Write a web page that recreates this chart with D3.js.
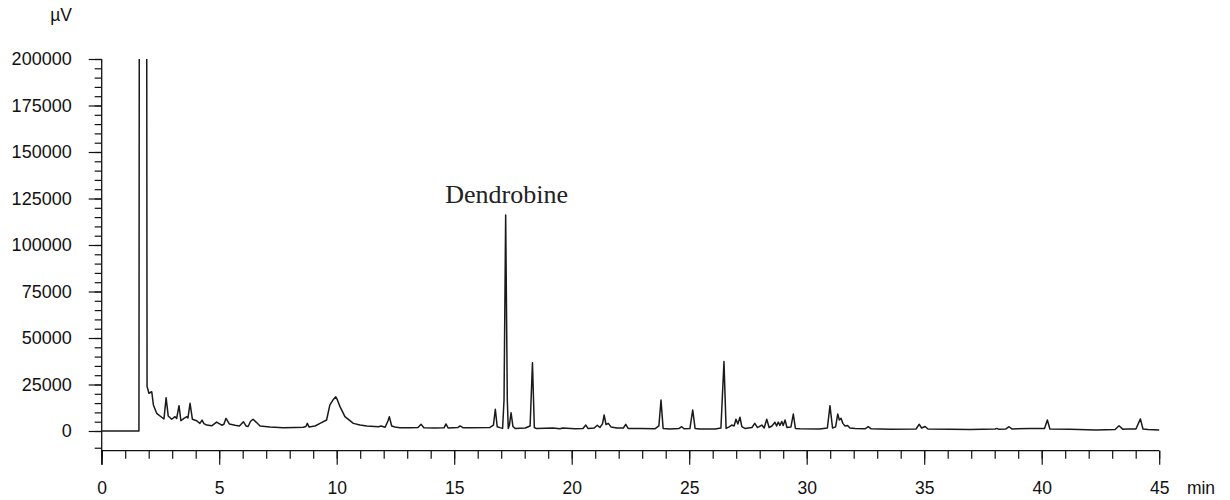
<!DOCTYPE html>
<html>
<head>
<meta charset="utf-8">
<script src="https://cdn.jsdelivr.net/npm/d3@7"></script>
<style>
  body { margin: 0; background: #fff; }
  svg { display: block; }
</style>
</head>
<body>
<div id="chart"></div>
<script>
// retention time (min) and detector signal (µV)
const times = [
  0, 1.585, 1.75, 1.93, 2.01, 2.13, 2.20, 2.34, 2.55, 2.65, 2.74, 2.83, 2.98, 3.12, 3.19, 3.29, 3.37,
  3.50, 3.62, 3.67, 3.76, 3.86, 4.04, 4.18, 4.27, 4.35, 4.47, 4.68, 4.89, 5.11, 5.20, 5.29, 5.43,
  5.67, 5.86, 6.03, 6.14, 6.23, 6.33, 6.44, 6.57, 6.74, 7.16, 7.73, 8.23, 8.58, 8.69, 8.75, 8.82,
  9.08, 9.29, 9.57, 9.71, 9.86, 9.96, 10.03, 10.14, 10.35, 10.71, 10.99, 11.28, 11.77, 11.89, 12.06,
  12.18, 12.24, 12.34, 12.48, 12.69, 13.12, 13.46, 13.59, 13.71, 14.18, 14.57, 14.65, 14.74, 15.16,
  15.25, 15.37, 15.67, 16.52, 16.67, 16.75, 16.83, 16.95, 17.06, 17.12, 17.19, 17.26, 17.30, 17.35,
  17.42, 17.50, 17.59, 18.02, 18.23, 18.33, 18.41, 18.50, 19.20, 19.50, 19.62, 20.14, 20.48, 20.60,
  20.70, 20.96, 21.09, 21.20, 21.31, 21.38, 21.46, 21.56, 21.67, 21.93, 22.20, 22.30, 22.40, 22.91,
  23.54, 23.71, 23.80, 23.89, 24.18, 24.56, 24.68, 24.78, 25.03, 25.15, 25.25, 25.46, 26.10, 26.35,
  26.48, 26.57, 26.70, 26.81, 26.91, 26.99, 27.07, 27.16, 27.24, 27.37, 27.67, 27.79, 27.90, 27.96,
  28.09, 28.19, 28.30, 28.40, 28.52, 28.65, 28.72, 28.79, 28.86, 28.94, 29.00, 29.08, 29.16, 29.33,
  29.43, 29.52, 29.71, 30.56, 30.88, 30.99, 31.10, 31.23, 31.32, 31.39, 31.46, 31.54, 31.63, 31.74,
  31.84, 32.06, 32.48, 32.62, 32.74, 33.54, 34.65, 34.79, 34.89, 35.04, 35.16, 36.10, 36.95, 38.02,
  38.09, 38.18, 38.48, 38.61, 38.73, 39.50, 40.12, 40.24, 40.35, 41.20, 42.31, 43.12, 43.29, 43.46,
  43.67, 44.01, 44.20, 44.31, 44.52, 45.0
];
const signal = [
  0, 0, 2500000, 24000, 20300, 21100, 14000, 9500, 7400, 6500, 17900, 8100, 6300, 7700, 6800, 13600, 5500,
  6800, 7700, 7000, 14900, 6300, 5500, 4100, 5900, 4000, 3200, 2800, 4800, 3100, 3600, 6800, 3800,
  3100, 2700, 5000, 2700, 2400, 5100, 6300, 4800, 2700, 2200, 1800, 1900, 2000, 2400, 4100, 2200,
  2700, 4100, 5900, 14000, 17000, 18400, 16700, 13100, 7700, 4100, 3200, 2700, 2300, 2700, 2000,
  5400, 7700, 2700, 2200, 1800, 1800, 1900, 3600, 1800, 1600, 1700, 3800, 1600, 1900,
  2700, 1800, 1800, 1900, 3200, 11700, 2300, 1800, 1400, 16700, 116100, 16700, 1400, 3200,
  9800, 2400, 1400, 1600, 2700, 36700, 1900, 1300, 1600, 1200, 1600, 1200, 1300, 3200,
  1300, 1600, 3100, 1900, 3800, 8600, 3500, 4100, 2200, 1600, 1600, 3600, 1400, 1300,
  1200, 2700, 16700, 1400, 1100, 1300, 2300, 1200, 1300, 11300, 1400, 1100, 1100, 1600,
  37300, 1400, 2200, 3200, 2700, 6300, 3800, 7400, 2400, 1400, 1900, 4100, 1900, 2200,
  3200, 1600, 6300, 1900, 2700, 4700, 2700, 4800, 3000, 5100, 3000, 5900, 1900, 2200,
  9100, 1400, 1200, 1100, 1600, 13600, 1600, 2200, 9100, 5900, 6800, 4100, 2700, 3000,
  1600, 1300, 1200, 2300, 1200, 1000, 1100, 3600, 1600, 2400, 1100, 1000, 800, 1100,
  1400, 900, 1100, 2300, 1100, 1300, 1300, 5900, 1100, 900, 500, 800, 2800, 900,
  1100, 1100, 6500, 1100, 800, 500
];

const xMajorTicks = [0, 5, 10, 15, 20, 25, 30, 35, 40, 45];
const xMinorTicks = d3.range(0, 46, 1);
const yMajorTicks = [0, 25000, 50000, 75000, 100000, 125000, 150000, 175000, 200000];
const yMinorTicks = d3.range(0, 200001, 5000).concat([-9000]);
const peakLabel = { text: 'Dendrobine', time: 17.19, value: 116100 };

const width = 1230, height = 500;
const sans = '"Liberation Sans", Arial, Helvetica, sans-serif';

const svg = d3.select('#chart')
  .append('svg')
  .attr('width', width)
  .attr('height', height);

const x = d3.scaleLinear()
  .domain([0, 45])
  .range([101.7, 1159.2]);

const y = d3.scaleLinear()
  .domain([0, 200000])
  .range([431, 59]);

const axisY0 = 450.7; // x-axis baseline

svg.append('defs')
  .append('clipPath')
  .attr('id', 'plot-clip')
  .append('rect')
  .attr('x', x(0))
  .attr('y', y(200000))
  .attr('width', x(45) - x(0) + 10)
  .attr('height', axisY0 - y(200000));

// y axis
const yMinor = g => g
  .attr('transform', `translate(${x(0)},0)`)
  .call(d3.axisLeft(y).tickValues(yMinorTicks).tickSize(7).tickFormat(''))
  .call(g => g.select('.domain').remove());

const yMajor = g => g
  .attr('transform', `translate(${x(0)},0)`)
  .call(d3.axisLeft(y).tickValues(yMajorTicks).tickSize(13).tickPadding(17)
    .tickFormat(d3.format('d')))
  .call(g => g.select('.domain').remove())
  .call(g => g.selectAll('text').attr('font-size', 18));

// x axis
const xMinor = g => g
  .attr('transform', `translate(0,${axisY0})`)
  .call(d3.axisBottom(x).tickValues(xMinorTicks).tickSize(8).tickFormat(''))
  .call(g => g.select('.domain').remove());

const xMajor = g => g
  .attr('transform', `translate(0,${axisY0})`)
  .call(d3.axisBottom(x).tickValues(xMajorTicks).tickSize(14).tickPadding(17)
    .tickFormat(d3.format('d')))
  .call(g => g.select('.domain').remove())
  .call(g => g.selectAll('text').attr('font-size', 17.5));

svg.append('g').call(yMinor);
svg.append('g').call(yMajor);
svg.append('g').call(xMinor);
svg.append('g').call(xMajor);

svg.selectAll('.tick line')
  .attr('stroke', '#111')
  .attr('stroke-width', 1.2);
svg.selectAll('.tick text')
  .attr('font-family', sans)
  .attr('fill', '#111');

// axis lines
svg.append('line')
  .attr('x1', x(0)).attr('x2', x(0))
  .attr('y1', y(200000)).attr('y2', axisY0 + 14)
  .attr('stroke', '#111').attr('stroke-width', 1.3);

svg.append('line')
  .attr('x1', x(0)).attr('x2', x(45))
  .attr('y1', axisY0).attr('y2', axisY0)
  .attr('stroke', '#111').attr('stroke-width', 1.3);

// units
svg.append('text')
  .attr('x', 72).attr('y', 21)
  .attr('text-anchor', 'end')
  .attr('font-family', sans)
  .attr('font-size', 17.5)
  .attr('fill', '#111')
  .text('µV');

svg.append('text')
  .attr('x', 1201).attr('y', 494)
  .attr('text-anchor', 'middle')
  .attr('font-family', sans)
  .attr('font-size', 17.5)
  .attr('fill', '#111')
  .text('min');

// trace
const data = times.map((t, i) => [t, signal[i]]);

const line = d3.line()
  .x(d => x(d[0]))
  .y(d => y(d[1]));

svg.append('path')
  .datum(data)
  .attr('clip-path', 'url(#plot-clip)')
  .attr('fill', 'none')
  .attr('stroke', '#1a1a1a')
  .attr('stroke-width', 1.5)
  .attr('stroke-linejoin', 'round')
  .attr('d', line);

// peak annotation
svg.append('text')
  .attr('x', x(peakLabel.time) + 1)
  .attr('y', y(peakLabel.value) - 12)
  .attr('text-anchor', 'middle')
  .attr('font-family', '"Liberation Serif", "Times New Roman", Times, serif')
  .attr('font-size', 26)
  .attr('fill', '#222')
  .text(peakLabel.text);
</script>
</body>
</html>
